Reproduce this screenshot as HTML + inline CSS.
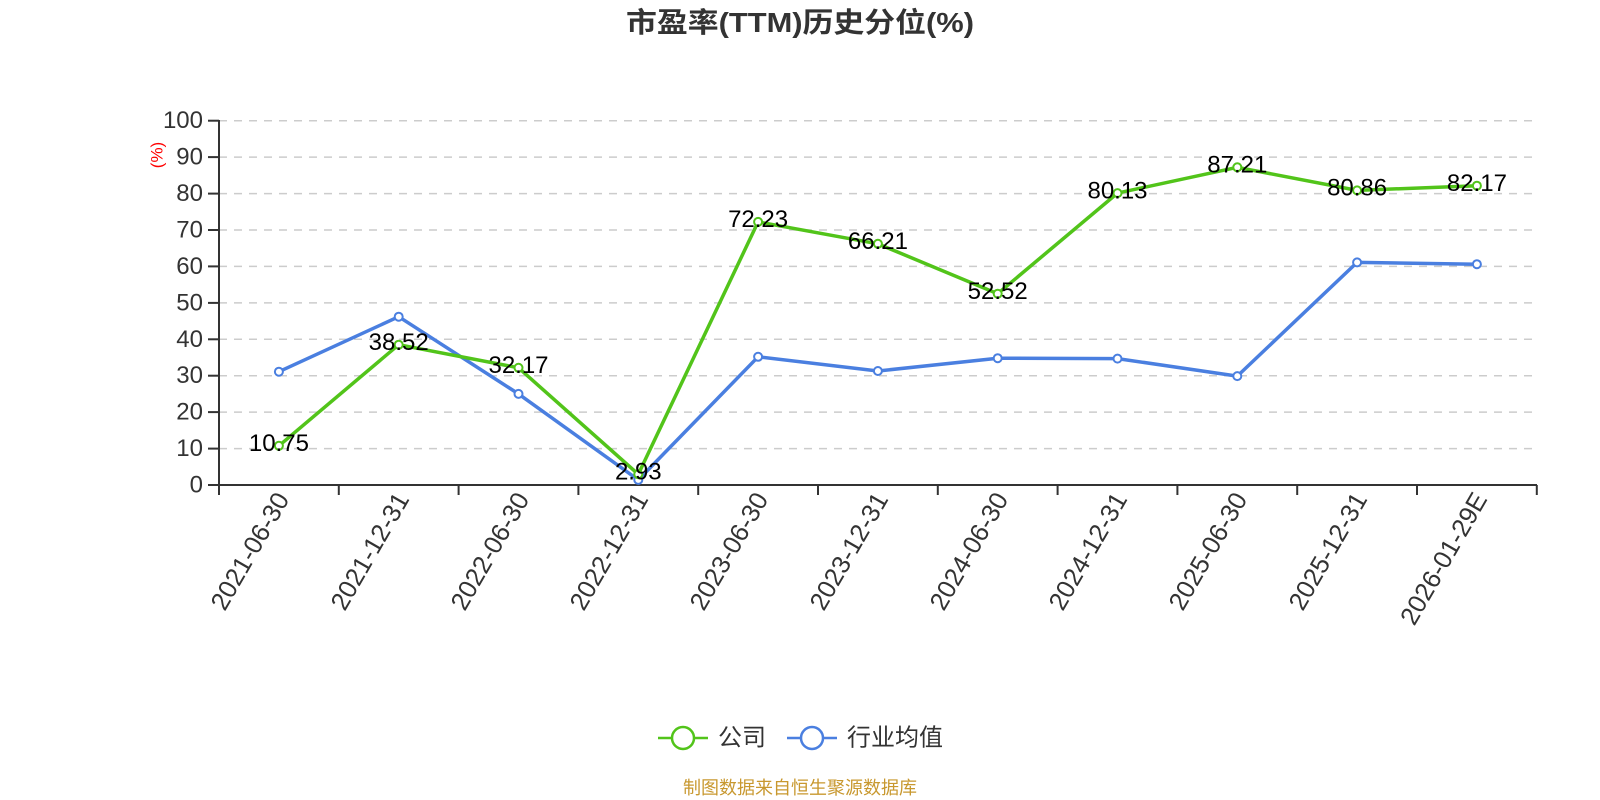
<!DOCTYPE html>
<html><head><meta charset="utf-8"><style>
html,body{margin:0;padding:0;background:#fff;}
svg{display:block;}
text{font-family:"Liberation Sans","Noto Sans CJK SC",sans-serif;}
</style></head><body>
<svg width="1600" height="800" viewBox="0 0 1600 800" xmlns="http://www.w3.org/2000/svg">
<rect width="1600" height="800" fill="#fff"/>
<text x="800" y="32" text-anchor="middle" font-size="28" font-weight="bold" fill="#333" textLength="348" lengthAdjust="spacingAndGlyphs">市盈率(TTM)历史分位(%)</text>

<g stroke="#ccc" stroke-width="1.5" stroke-dasharray="8 7">
<line x1="219" y1="448.6" x2="1537" y2="448.6"/>
<line x1="219" y1="412.1" x2="1537" y2="412.1"/>
<line x1="219" y1="375.7" x2="1537" y2="375.7"/>
<line x1="219" y1="339.3" x2="1537" y2="339.3"/>
<line x1="219" y1="302.9" x2="1537" y2="302.9"/>
<line x1="219" y1="266.4" x2="1537" y2="266.4"/>
<line x1="219" y1="230.0" x2="1537" y2="230.0"/>
<line x1="219" y1="193.6" x2="1537" y2="193.6"/>
<line x1="219" y1="157.1" x2="1537" y2="157.1"/>
<line x1="219" y1="120.7" x2="1537" y2="120.7"/>
</g>

<g stroke="#333" stroke-width="2" fill="none">
<line x1="219" y1="120" x2="219" y2="486"/>
<line x1="218" y1="485" x2="1537" y2="485"/>
<line x1="208" y1="485" x2="219" y2="485"/>
<line x1="208" y1="448.6" x2="219" y2="448.6"/>
<line x1="208" y1="412.1" x2="219" y2="412.1"/>
<line x1="208" y1="375.7" x2="219" y2="375.7"/>
<line x1="208" y1="339.3" x2="219" y2="339.3"/>
<line x1="208" y1="302.9" x2="219" y2="302.9"/>
<line x1="208" y1="266.4" x2="219" y2="266.4"/>
<line x1="208" y1="230.0" x2="219" y2="230.0"/>
<line x1="208" y1="193.6" x2="219" y2="193.6"/>
<line x1="208" y1="157.1" x2="219" y2="157.1"/>
<line x1="208" y1="120.7" x2="219" y2="120.7"/>
<line x1="219" y1="485" x2="219" y2="495"/>
<line x1="338.8" y1="485" x2="338.8" y2="495"/>
<line x1="458.6" y1="485" x2="458.6" y2="495"/>
<line x1="578.4" y1="485" x2="578.4" y2="495"/>
<line x1="698.2" y1="485" x2="698.2" y2="495"/>
<line x1="818" y1="485" x2="818" y2="495"/>
<line x1="937.8" y1="485" x2="937.8" y2="495"/>
<line x1="1057.6" y1="485" x2="1057.6" y2="495"/>
<line x1="1177.4" y1="485" x2="1177.4" y2="495"/>
<line x1="1297.2" y1="485" x2="1297.2" y2="495"/>
<line x1="1417" y1="485" x2="1417" y2="495"/>
<line x1="1536.8" y1="485" x2="1536.8" y2="495"/>
</g>

<g font-size="24" fill="#333" text-anchor="end" dominant-baseline="central">
<text x="203" y="485">0</text>
<text x="203" y="448.6">10</text>
<text x="203" y="412.1">20</text>
<text x="203" y="375.7">30</text>
<text x="203" y="339.3">40</text>
<text x="203" y="302.9">50</text>
<text x="203" y="266.4">60</text>
<text x="203" y="230.0">70</text>
<text x="203" y="193.6">80</text>
<text x="203" y="157.1">90</text>
<text x="203" y="120.7">100</text>
</g>
<text transform="translate(157,155) rotate(-90)" font-size="17" fill="#f00" text-anchor="middle" dominant-baseline="central">(%)</text>

<g font-size="25.5" fill="#333" text-anchor="end" dominant-baseline="central">
<text transform="translate(283,495) rotate(-60)">2021-06-30</text>
<text transform="translate(403,495) rotate(-60)">2021-12-31</text>
<text transform="translate(523,495) rotate(-60)">2022-06-30</text>
<text transform="translate(642,495) rotate(-60)">2022-12-31</text>
<text transform="translate(762,495) rotate(-60)">2023-06-30</text>
<text transform="translate(882,495) rotate(-60)">2023-12-31</text>
<text transform="translate(1002,495) rotate(-60)">2024-06-30</text>
<text transform="translate(1121,495) rotate(-60)">2024-12-31</text>
<text transform="translate(1241,495) rotate(-60)">2025-06-30</text>
<text transform="translate(1361,495) rotate(-60)">2025-12-31</text>
<text transform="translate(1481,495) rotate(-60)">2026-01-29E</text>
</g>

<polyline fill="none" stroke="#4a7fe0" stroke-width="3.5" stroke-linejoin="round" points="278.9,371.7 398.7,316.7 518.5,393.9 638.3,479.9 758.1,356.8 877.9,371.0 997.7,358.2 1117.5,358.6 1237.3,376.1 1357.1,262.4 1476.9,264.2"/>
<g fill="#fff" stroke="#4a7fe0" stroke-width="2">
<circle cx="278.9" cy="371.7" r="4"/><circle cx="398.7" cy="316.7" r="4"/><circle cx="518.5" cy="393.9" r="4"/><circle cx="638.3" cy="479.9" r="4"/><circle cx="758.1" cy="356.8" r="4"/><circle cx="877.9" cy="371.0" r="4"/><circle cx="997.7" cy="358.2" r="4"/><circle cx="1117.5" cy="358.6" r="4"/><circle cx="1237.3" cy="376.1" r="4"/><circle cx="1357.1" cy="262.4" r="4"/><circle cx="1476.9" cy="264.2" r="4"/>
</g>

<polyline fill="none" stroke="#52c41a" stroke-width="3.5" stroke-linejoin="round" points="278.9,445.8 398.7,344.7 518.5,367.8 638.3,474.3 758.1,221.9 877.9,243.8 997.7,293.7 1117.5,193.1 1237.3,167.3 1357.1,190.4 1476.9,185.7"/>
<g fill="#fff" stroke="#52c41a" stroke-width="2">
<circle cx="278.9" cy="445.8" r="4"/><circle cx="398.7" cy="344.7" r="4"/><circle cx="518.5" cy="367.8" r="4"/><circle cx="638.3" cy="474.3" r="4"/><circle cx="758.1" cy="221.9" r="4"/><circle cx="877.9" cy="243.8" r="4"/><circle cx="997.7" cy="293.7" r="4"/><circle cx="1117.5" cy="193.1" r="4"/><circle cx="1237.3" cy="167.3" r="4"/><circle cx="1357.1" cy="190.4" r="4"/><circle cx="1476.9" cy="185.7" r="4"/>
</g>

<g font-size="24" fill="#000" text-anchor="middle" dominant-baseline="central">
<text x="278.9" y="443.5">10.75</text>
<text x="398.7" y="342.4">38.52</text>
<text x="518.5" y="365.5">32.17</text>
<text x="638.3" y="472">2.93</text>
<text x="758.1" y="219.6">72.23</text>
<text x="877.9" y="241.5">66.21</text>
<text x="997.7" y="291.4">52.52</text>
<text x="1117.5" y="190.8">80.13</text>
<text x="1237.3" y="165">87.21</text>
<text x="1357.1" y="188.1">80.86</text>
<text x="1476.9" y="183.4">82.17</text>
</g>

<line x1="658" y1="738" x2="708" y2="738" stroke="#52c41a" stroke-width="2.5"/>
<circle cx="683" cy="738" r="11" fill="#fff" stroke="#52c41a" stroke-width="2.5"/>
<text x="718" y="738" font-size="24" fill="#333" dominant-baseline="central">公司</text>
<line x1="787" y1="738" x2="837" y2="738" stroke="#4a7fe0" stroke-width="2.5"/>
<circle cx="812" cy="738" r="11" fill="#fff" stroke="#4a7fe0" stroke-width="2.5"/>
<text x="847" y="738" font-size="24" fill="#333" dominant-baseline="central">行业均值</text>

<text x="800" y="788" font-size="18" fill="#c8982f" text-anchor="middle" dominant-baseline="central">制图数据来自恒生聚源数据库</text>
</svg>
</body></html>
